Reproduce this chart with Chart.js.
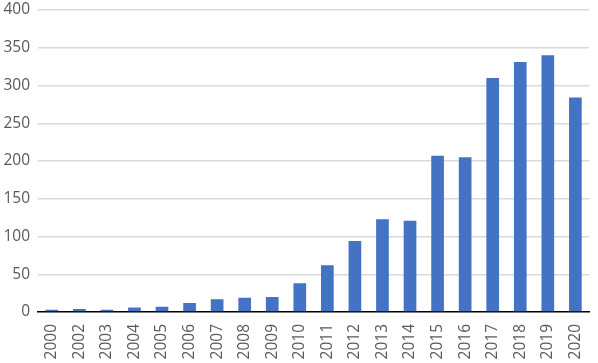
<!DOCTYPE html>
<html>
<head>
<meta charset="utf-8">
<script src="https://cdn.jsdelivr.net/npm/chart.js@4"></script>
<style>
  body { margin: 0; background: #fff; }
  #wrap { width: 598px; height: 363px; }
</style>
</head>
<body>
<div id="wrap"><canvas id="myChart" width="598" height="363"></canvas></div>
<script>
let years = ['2000', '2002', '2003', '2004', '2005', '2006', '2007', '2008', '2009', '2010',
             '2011', '2012', '2013', '2014', '2015', '2016', '2017', '2018', '2019', '2020'];
let counts = [3, 4, 3, 6, 7, 12, 17, 19, 20, 38, 62, 94, 123, 121, 207, 205, 310, 331, 340, 284];
let yTicks = [0, 50, 100, 150, 200, 250, 300, 350, 400];

let ctx = document.getElementById('myChart').getContext('2d');

let myChart = new Chart(ctx, {
    type: 'bar',
    data: {
        labels: years,
        datasets: [{
            data: counts,
            backgroundColor: '#4472C4',
            barPercentage: 0.46,
            categoryPercentage: 1
        }]
    },
    options: {
        responsive: false,
        animation: false,
        layout: { padding: { top: 10, right: 1 } },
        plugins: {
            legend: { display: false },
            tooltip: { enabled: false }
        },
        scales: {
            x: {
                grid: { display: false },
                border: { color: '#000', width: 1.5 },
                ticks: {
                    color: '#595959',
                    font: { family: 'Open Sans', size: 15.5 },
                    minRotation: 90,
                    maxRotation: 90,
                    padding: 4
                },
                afterFit: (axis) => { axis.height = 51; }
            },
            y: {
                min: 0,
                max: 400,
                afterBuildTicks: (axis) => { axis.ticks = yTicks.map(v => ({ value: v })); },
                grid: {
                    color: (c) => c.tick && c.tick.value === 0 ? 'rgba(0,0,0,0)' : '#d9d9d9',
                    lineWidth: 1.5,
                    drawTicks: false
                },
                border: { display: false },
                ticks: {
                    color: '#595959',
                    font: { family: 'Open Sans', size: 15.5 },
                    padding: 8
                },
                afterFit: (axis) => {
                    axis.width = 38;
                    axis.paddingTop = 0;
                    axis.paddingBottom = 0;
                }
            }
        }
    }
});
</script>
</body>
</html>
